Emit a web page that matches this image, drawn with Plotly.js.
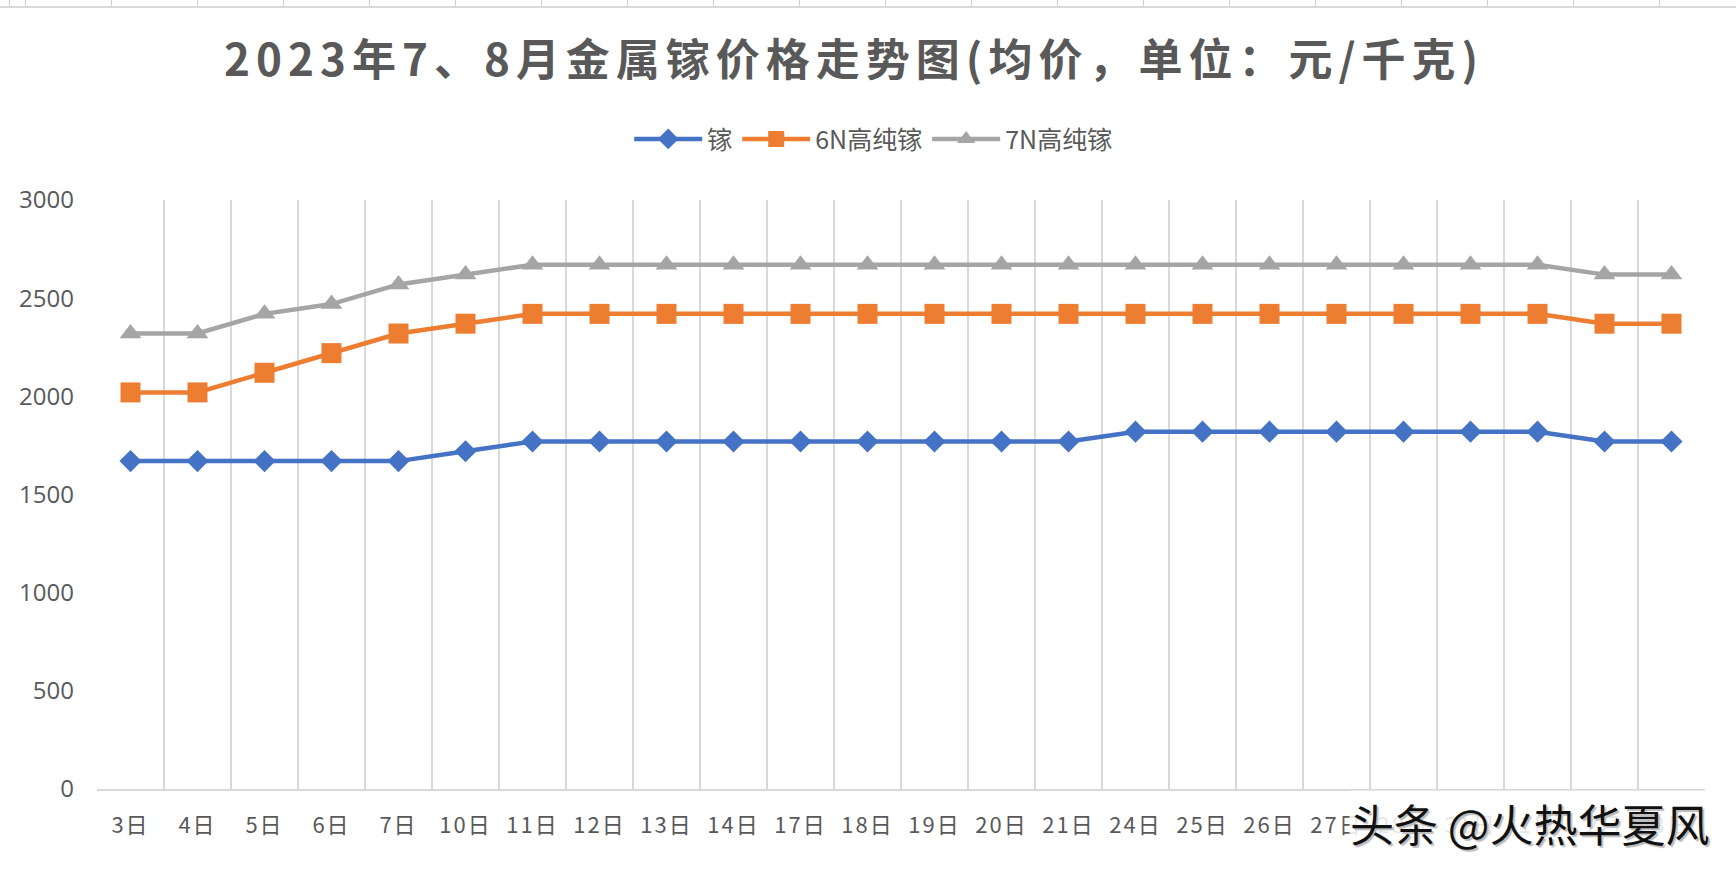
<!DOCTYPE html>
<html>
<head>
<meta charset="utf-8">
<script src="https://cdn.plot.ly/plotly-3.0.1.min.js"></script>
<style>
  html, body { margin: 0; padding: 0; background: #fff; }
  #chart { width: 1736px; height: 870px; }
  #sheet { position: absolute; left: 0; top: 0; width: 1736px; height: 6px;
    border-bottom: 2px solid #dadada;
    background-image: repeating-linear-gradient(to right, #cfcfcf 0, #cfcfcf 1px, transparent 1px, transparent 86px);
    background-position: 25px 0; z-index: 5; }
  .gtitle { letter-spacing: 6px; }
  .xtick text { letter-spacing: 2px; }
</style>
</head>
<body>
<div id="sheet"></div>
<div id="chart"></div>
<script>
const days = ["3日","4日","5日","6日","7日","10日","11日","12日","13日","14日","17日","18日","19日","20日","21日","24日","25日","26日","27日","28日","31日","1日","2日","3日"];
const gallium = [1670,1670,1670,1670,1670,1720,1770,1770,1770,1770,1770,1770,1770,1770,1770,1820,1820,1820,1820,1820,1820,1820,1770,1770];
const gallium6N = [2020,2020,2120,2220,2320,2370,2420,2420,2420,2420,2420,2420,2420,2420,2420,2420,2420,2420,2420,2420,2420,2420,2370,2370];
const gallium7N = [2320,2320,2420,2470,2570,2620,2670,2670,2670,2670,2670,2670,2670,2670,2670,2670,2670,2670,2670,2670,2670,2670,2620,2620];
const seriesNames = ["镓","6N高纯镓","7N高纯镓"];
const yTicks = [0,500,1000,1500,2000,2500,3000];

const idx = days.map((_, i) => i);
const bounds = days.map((_, i) => i - 0.5).concat([days.length - 0.5]);
const cjk = '"Noto Sans CJK SC", "Noto Sans", sans-serif';

const traces = [
  {x: idx, y: gallium, name: seriesNames[0], type: 'scatter', mode: 'lines+markers',
   line: {color: '#4472C4', width: 4.5}, marker: {symbol: 'diamond', size: 17, color: '#4472C4'}},
  {x: idx, y: gallium6N, name: seriesNames[1], type: 'scatter', mode: 'lines+markers',
   line: {color: '#ED7D31', width: 4.5}, marker: {symbol: 'square', size: 20, color: '#ED7D31'}},
  {x: idx, y: gallium7N, name: seriesNames[2], type: 'scatter', mode: 'lines+markers',
   line: {color: '#A5A5A5', width: 4.5}, marker: {symbol: 'triangle-up', size: 19, color: '#A5A5A5'}}
];

const layout = {
  width: 1736, height: 870,
  margin: {l: 97, r: 31, t: 200, b: 81},
  paper_bgcolor: '#ffffff', plot_bgcolor: '#ffffff',
  showlegend: true,
  title: {
    text: '<b>2023年7、8月金属镓价格走势图(均价，单位：元/千克)</b>',
    font: {family: cjk, size: 44, color: '#595959'},
    xref: 'container', x: 0.492, xanchor: 'center',
    yref: 'container', y: 0.93, yanchor: 'middle'
  },
  legend: {
    orientation: 'h', xref: 'container', x: 0.503, xanchor: 'center',
    yref: 'container', y: 0.84, yanchor: 'middle',
    font: {family: cjk, size: 25, color: '#595959'},
    itemwidth: 68, tracegroupgap: 0
  },
  xaxis: {
    range: [-0.5, days.length - 0.5],
    tickmode: 'array', tickvals: idx, ticktext: days,
    showgrid: false, zeroline: false,
    showline: true, linecolor: '#d9d9d9', linewidth: 1.5,
    ticks: '', ticklabelstandoff: 16,
    tickfont: {family: cjk, size: 22, color: '#595959'},
    minor: {tickmode: 'array', tickvals: bounds, showgrid: true, gridcolor: '#d9d9d9', gridwidth: 1.5, ticks: ''},
    fixedrange: true
  },
  yaxis: {
    range: [0, 3000], tickmode: 'array', tickvals: yTicks,
    showgrid: false, zeroline: false, showline: false,
    ticks: '', ticklabelstandoff: 22,
    tickfont: {family: '"Open Sans", sans-serif', size: 24, color: '#595959'},
    fixedrange: true
  },
  annotations: [{
    text: '头条 @火热华夏风', xref: 'paper', yref: 'paper',
    x: 1.003, xanchor: 'right', y: -0.058, yanchor: 'middle', showarrow: false,
    font: {family: cjk, size: 44, color: '#111111', shadow: '2px 2px 1px #bbbbbb'},
    bgcolor: 'rgba(255,255,255,0.85)', borderpad: 0
  }]
};

Plotly.newPlot('chart', traces, layout, {displayModeBar: false, staticPlot: true});
</script>
</body>
</html>
